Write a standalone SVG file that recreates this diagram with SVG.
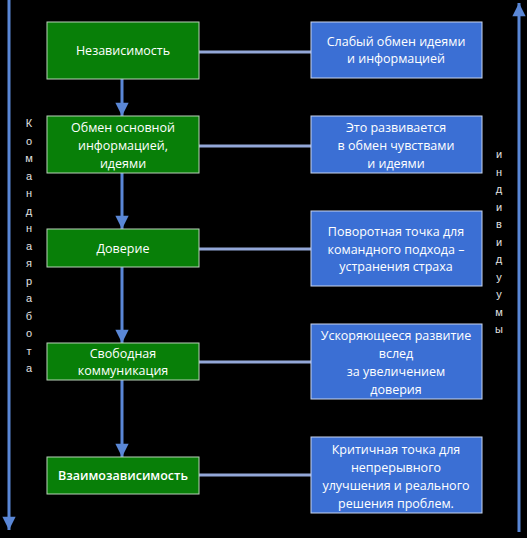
<svg xmlns="http://www.w3.org/2000/svg" width="527" height="538" viewBox="0 0 527 538">
<defs>
<style>
.g{fill:#087f08;stroke:#b9d3b9;stroke-width:1}
.b{fill:#3b6fd4;stroke:#c9d6ef;stroke-width:1}
.t{font-family:"Open Sans","Liberation Sans",sans-serif;font-size:12.5px;fill:#ffffff;text-anchor:middle}
.v{font-family:"Liberation Sans",sans-serif;font-size:11px;fill:#e0e0e0;text-anchor:middle}
.arr{stroke:#5a87d6;stroke-width:3;fill:none}
.con{stroke:#93a7d8;stroke-width:3;fill:none}
</style>
<marker id="ah" viewBox="0 0 10 10" refX="10" refY="5" markerWidth="5.5" markerHeight="4.4" markerUnits="strokeWidth" orient="auto">
<path d="M0,0 L10,5 L0,10 z" fill="#5a87d6"/>
</marker>
</defs>
<rect width="527" height="538" fill="#000"/>
<g id="connectors">
<line class="arr" x1="9" y1="0" x2="9" y2="530" marker-end="url(#ah)"/>
<line class="arr" x1="519" y1="532" x2="519" y2="3" marker-end="url(#ah)"/>
<line class="arr" x1="122" y1="79" x2="122" y2="116" marker-end="url(#ah)"/>
<line class="arr" x1="122" y1="173" x2="122" y2="229" marker-end="url(#ah)"/>
<line class="arr" x1="122" y1="267" x2="122" y2="343" marker-end="url(#ah)"/>
<line class="arr" x1="122" y1="380" x2="122" y2="457" marker-end="url(#ah)"/>
<line class="con" x1="199" y1="52" x2="311" y2="52"/>
<line class="con" x1="199" y1="146" x2="311" y2="146"/>
<line class="con" x1="199" y1="249" x2="311" y2="249"/>
<line class="con" x1="199" y1="362" x2="311" y2="362"/>
<line class="con" x1="199" y1="475" x2="311" y2="475"/>
</g>
<g id="n1"><rect class="g" x="47" y="22" width="152" height="57"/><text class="t" x="123" y="55">Независимость</text></g>
<g id="n2"><rect class="g" x="47" y="116" width="152" height="57"/><text class="t" x="123" y="132">Обмен основной</text><text class="t" x="123" y="150">информацией,</text><text class="t" x="123" y="168">идеями</text></g>
<g id="n3"><rect class="g" x="47" y="229" width="152" height="38"/><text class="t" x="123" y="253">Доверие</text></g>
<g id="n4"><rect class="g" x="47" y="343" width="152" height="37"/><text class="t" x="123" y="358">Свободная</text><text class="t" x="123" y="375">коммуникация</text></g>
<g id="n5"><rect class="g" x="47" y="457" width="152" height="37"/><text class="t" x="123" y="480" font-weight="600">Взаимозависимость</text></g>
<g id="b1"><rect class="b" x="311" y="22" width="171" height="56"/><text class="t" x="396" y="46">Слабый обмен идеями</text><text class="t" x="396" y="63">и информацией</text></g>
<g id="b2"><rect class="b" x="311" y="116" width="171" height="57"/><text class="t" x="396" y="132">Это развивается</text><text class="t" x="396" y="150">в обмен чувствами</text><text class="t" x="396" y="168">и идеями</text></g>
<g id="b3"><rect class="b" x="311" y="211" width="171" height="75"/><text class="t" x="396" y="236">Поворотная точка для</text><text class="t" x="396" y="254">командного подхода –</text><text class="t" x="396" y="271">устранения страха</text></g>
<g id="b4"><rect class="b" x="311" y="324" width="171" height="75"/><text class="t" x="396" y="340">Ускоряющееся развитие</text><text class="t" x="396" y="358">вслед</text><text class="t" x="396" y="376">за увеличением</text><text class="t" x="396" y="394">доверия</text></g>
<g id="b5"><rect class="b" x="311" y="437" width="171" height="76"/><text class="t" x="396" y="454">Критичная точка для</text><text class="t" x="396" y="472">непрерывного</text><text class="t" x="396" y="490">улучшения и реального</text><text class="t" x="396" y="508">решения проблем.</text></g>
<g id="label-left">
<text class="v" x="29" y="127">К</text><text class="v" x="29" y="144.5">о</text><text class="v" x="29" y="162">м</text><text class="v" x="29" y="179.5">а</text><text class="v" x="29" y="197">н</text><text class="v" x="29" y="214.5">д</text><text class="v" x="29" y="232">н</text><text class="v" x="29" y="249.5">а</text><text class="v" x="29" y="267">я</text><text class="v" x="29" y="284.5">р</text><text class="v" x="29" y="302">а</text><text class="v" x="29" y="319.5">б</text><text class="v" x="29" y="337">о</text><text class="v" x="29" y="354.5">т</text><text class="v" x="29" y="372">а</text>
</g>
<g id="label-right">
<text class="v" x="499" y="158">и</text><text class="v" x="499" y="175.5">н</text><text class="v" x="499" y="193">д</text><text class="v" x="499" y="210.5">и</text><text class="v" x="499" y="228">в</text><text class="v" x="499" y="245.5">и</text><text class="v" x="499" y="263">д</text><text class="v" x="499" y="280.5">у</text><text class="v" x="499" y="298">у</text><text class="v" x="499" y="315.5">м</text><text class="v" x="499" y="333">ы</text>
</g>
</svg>
